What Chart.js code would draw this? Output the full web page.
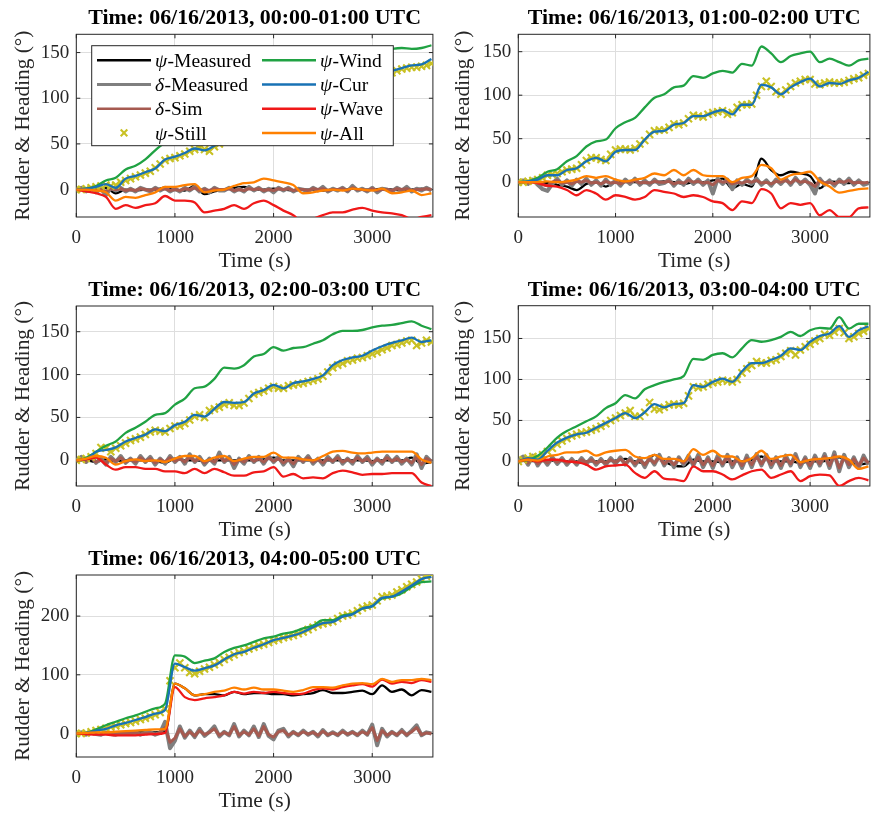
<!DOCTYPE html>
<html>
<head>
<meta charset="utf-8">
<script src="https://cdn.jsdelivr.net/npm/chart.js@4.4.1/dist/chart.umd.min.js"></script>
<style>
  html, body { margin: 0; padding: 0; background: #fff; }
  body { width: 877px; height: 818px; position: relative; overflow: hidden; }
  .panel { position: absolute; }
</style>
</head>
<body>
<div class="panel" id="box1"><canvas id="c1"></canvas></div>
<div class="panel" id="box2"><canvas id="c2"></canvas></div>
<div class="panel" id="box3"><canvas id="c3"></canvas></div>
<div class="panel" id="box4"><canvas id="c4"></canvas></div>
<div class="panel" id="box5"><canvas id="c5"></canvas></div>
<script>
// time grids (s)
const timeCoarse = [0, 100, 200, 300, 400, 500, 600, 700, 800, 900,
  1000, 1100, 1200, 1300, 1400, 1500, 1600, 1700, 1800, 1900,
  2000, 2100, 2200, 2300, 2400, 2500, 2600, 2700, 2800, 2900,
  3000, 3100, 3200, 3300, 3400, 3500, 3600];
const timeFine = [0, 50, 100, 150, 200, 250, 300, 350, 400, 450, 500, 550,
  600, 650, 700, 750, 800, 850, 900, 950, 1000, 1050, 1100, 1150,
  1200, 1250, 1300, 1350, 1400, 1450, 1500, 1550, 1600, 1650, 1700, 1750,
  1800, 1850, 1900, 1950, 2000, 2050, 2100, 2150, 2200, 2250, 2300, 2350,
  2400, 2450, 2500, 2550, 2600, 2650, 2700, 2750, 2800, 2850, 2900, 2950,
  3000, 3050, 3100, 3150, 3200, 3250, 3300, 3350, 3400, 3450, 3500, 3550,
  3600];

const titles = [
  'Time: 06/16/2013, 00:00-01:00 UTC',
  'Time: 06/16/2013, 01:00-02:00 UTC',
  'Time: 06/16/2013, 02:00-03:00 UTC',
  'Time: 06/16/2013, 03:00-04:00 UTC',
  'Time: 06/16/2013, 04:00-05:00 UTC'
];
const seriesNames = ['ψ-Measured', 'δ-Measured', 'δ-Sim', 'ψ-Still', 'ψ-Wind', 'ψ-Cur', 'ψ-Wave', 'ψ-All'];
const xTicks = [0, 1000, 2000, 3000];
const yTicks = [[0, 50, 100, 150], [0, 50, 100, 150], [0, 50, 100, 150], [0, 50, 100, 150], [0, 100, 200]];
const yRanges = [[-30, 170], [-40, 170], [-30, 180], [-30, 190], [-40, 270]];

// ---- 00:00-01:00 ----
const measured1 = [0, 0, 1, 2, -4, 0, -1, 0, 0, 2,
  0, -1, 4, -5, -2, 0, 2, 3, 0, 0,
  1, 0, -1, 0, 0, -1, 0, 0, 1, 0,
  0, 1, 0, -1, 0, 1, 0];
const rudderMeas1 = [0, 2, -2, 2, -3, 1, -6, 2, -1, 2, -2, 1,
  -2, 2, 0, -2, 2, -1, 2, -2, 1, -2, 2, -1,
  3, -2, 1, -3, 2, -1, -1, 2, -2, 1, -2, 3,
  -1, 2, -2, 1, -3, 2, -1, 2, -2, 1, 0, -2,
  2, -1, 3, -2, 1, -1, 2, -2, 4, -1, 1, -2,
  2, -3, 1, 0, -2, 2, -1, 3, -2, 1, -1, 2,
  -1];
const rudderSim1 = [0, 1, -1, 1, -2, 0, -2, 1, 0, 1, -1, 0,
  -1, 1, 0, -1, 1, 0, 1, -1, 0, -1, 1, 0,
  2, -1, 0, -1, 1, 0, 0, 1, -1, 0, -1, 1,
  0, 1, -1, 0, -1, 1, 0, 1, -1, 0, 0, -1,
  1, 0, 1, -1, 0, 0, 1, -1, 2, 0, 0, -1,
  1, -1, 0, 0, -1, 1, 0, 1, -1, 0, 0, 1,
  0];
const still1 = [0, 0, 1, 2, 3, 4, 5, 4, 5, 8, 10, 12,
  14, 16, 18, 20, 24, 28, 32, 34, 35, 37, 39, 42,
  44, 46, 44, 42, 47, 50, 53, 56, 59, 62, 65, 68,
  71, 74, 77, 80, 83, 86, 89, 92, 94, 96, 99, 101,
  103, 105, 107, 109, 111, 113, 114, 116, 117, 119, 120, 122,
  123, 125, 126, 126, 128, 130, 132, 133, 134, 134, 135, 136,
  138];
const wind1 = [0, 1, 4, 10, 13, 22, 26, 33, 43, 52,
  62, 70, 78, 85, 92, 98, 103, 108, 113, 118,
  122, 126, 130, 133, 137, 140, 142, 145, 147, 149,
  151, 152, 154, 155, 154, 155, 158];
const cur1 = [0, 1, 3, 6, 2, 12, 15, 19, 23, 33,
  36, 40, 45, 43, 48, 54, 60, 66, 72, 78,
  84, 90, 95, 100, 104, 108, 112, 115, 118, 121,
  124, 127, 130, 133, 136, 137, 143];
const wave1 = [0, -2, -4, -8, -21, -17, -20, -17, -15, -7,
  -12, -12, -14, -25, -23, -21, -17, -21, -15, -12,
  -17, -23, -28, -36, -32, -28, -25, -25, -22, -20,
  -23, -25, -26, -28, -32, -30, -28];
const all1 = [0, 0, -1, -3, -12, -8, -9, -6, -3, 3,
  3, 5, 6, -3, -1, 0, 4, 7, 8, 12,
  10, 8, 5, -4, -3, -1, 0, -1, 1, 0,
  -1, 1, -4, -3, -1, -6, -4];

// ---- 01:00-02:00 ----
const measured2 = [0, 0, 0, -1, -3, -5, -9, -2, 0, -5,
  0, 0, 0, -1, 0, 1, 0, -2, 0, 0,
  2, 4, -7, -2, -5, 27, 14, 8, 12, 10,
  7, -7, 1, 0, -1, 0, -2];
const rudderMeas2 = [0, 2, -2, 3, -3, -8, -10, -2, 4, -3, 2, -4,
  3, -2, 4, -3, 2, -4, 3, -3, 2, -4, 3, -2,
  4, -3, 2, -3, 3, -2, -1, 3, -4, 2, -3, 4,
  -2, 3, -3, 2, -13, 4, -2, 3, -8, 2, -3, 3,
  -2, 4, -3, 2, -4, 3, -2, 4, -3, 5, -2, 3,
  -3, -13, 4, -3, 2, -4, 3, -2, 4, -3, 2, -3,
  -1];
const rudderSim2 = [0, 1, -1, 1, -1, -3, -4, 0, 2, -1, 0, -2,
  1, 0, 2, -1, 0, -2, 1, -1, 0, -2, 1, 0,
  2, -1, 0, -1, 1, 0, 0, 1, -2, 0, -1, 2,
  0, 1, -1, 0, -3, 2, 0, 1, -2, 0, -1, 1,
  0, 2, -1, 0, -2, 1, 0, 2, -1, 3, 0, 1,
  -1, -5, 2, -1, 0, -2, 1, 0, 2, -1, 0, -1,
  0];
const still2 = [0, 0, 1, 2, 3, 5, 8, 9, 10, 12, 14, 15,
  16, 20, 25, 28, 28, 26, 25, 32, 37, 38, 38, 37,
  39, 44, 48, 55, 59, 60, 60, 63, 67, 66, 68, 73,
  77, 76, 75, 78, 80, 81, 82, 78, 80, 86, 89, 89,
  90, 100, 110, 116, 110, 104, 101, 106, 110, 114, 116, 118,
  118, 113, 112, 114, 115, 114, 114, 115, 117, 119, 120, 123,
  125];
const wind2 = [0, 1, 5, 12, 15, 24, 30, 41, 47, 49,
  62, 69, 74, 86, 97, 101, 109, 111, 122, 120,
  125, 128, 126, 136, 134, 156, 148, 138, 145, 148,
  150, 138, 142, 138, 134, 140, 142];
const cur2 = [0, 1, 3, 8, 8, 14, 16, 24, 28, 24,
  35, 37, 37, 49, 58, 59, 66, 68, 76, 76,
  80, 83, 78, 89, 89, 112, 109, 101, 109, 115,
  119, 110, 114, 113, 117, 120, 127];
const wave2 = [0, 0, -1, -4, -5, -9, -15, -9, -13, -20,
  -15, -17, -20, -17, -9, -11, -13, -17, -15, -17,
  -22, -24, -32, -22, -24, -8, -13, -30, -24, -26,
  -24, -38, -32, -40, -40, -30, -29];
const all2 = [0, 0, 0, 1, 0, 1, 3, 7, 5, 7,
  3, 1, 3, 5, 10, 8, 14, 8, 14, 8,
  7, 7, 0, 5, 7, 20, 16, 3, 8, 10,
  12, 1, -5, -12, -10, -8, -7];

// ---- 02:00-03:00 ----
const measured3 = [0, 0, -2, 1, -1, 0, 0, 0, -1, -3,
  2, 0, 0, -1, 0, 0, 0, 0, 0, 1,
  3, 0, 0, 0, 0, 0, 0, 0, 0, 0,
  -1, 0, 0, 0, 3, -4, -2];
const rudderMeas3 = [0, 4, -2, 5, -3, 2, -5, 4, -2, 5, -3, 2,
  -4, 5, -2, 4, -5, 2, -4, 5, -2, 4, -4, 7,
  -2, 4, -5, 2, -4, 9, -2, 4, -9, 2, -4, 5,
  -2, 4, -4, 5, -2, 4, -5, 2, -7, 4, -2, 5,
  -4, 2, -5, 4, -2, 5, -4, 2, -4, 5, -2, 4,
  -5, 2, -4, 5, -2, 4, -4, 2, -5, 7, -9, 4,
  -2];
const rudderSim3 = [0, 2, -1, 3, -2, 1, -3, 2, -1, 3, -2, 1,
  -2, 3, -1, 2, -3, 1, -2, 3, -1, 2, -2, 4,
  -1, 2, -3, 1, -2, 5, -1, 2, -5, 1, -2, 3,
  -1, 2, -2, 3, -1, 2, -3, 1, -4, 2, -1, 3,
  -2, 1, -3, 2, -1, 3, -2, 1, -2, 3, -1, 2,
  -3, 1, -2, 3, -1, 2, -2, 1, -3, 4, -5, 2,
  -1];
const still3 = [0, 1, 2, 4, 8, 15, 14, 10, 14, 17, 20, 23,
  25, 27, 30, 33, 35, 34, 33, 37, 40, 40, 43, 47,
  51, 53, 50, 58, 60, 62, 65, 67, 64, 64, 67, 72,
  77, 79, 81, 84, 86, 84, 84, 87, 88, 89, 90, 92,
  93, 95, 98, 103, 108, 111, 113, 116, 117, 119, 120, 122,
  124, 126, 129, 131, 134, 135, 137, 139, 140, 134, 137, 140,
  138];
const wind3 = [0, 3, 10, 17, 22, 32, 38, 45, 53, 55,
  65, 72, 84, 86, 95, 108, 107, 111, 121, 124,
  132, 128, 131, 132, 136, 140, 147, 151, 151, 152,
  155, 157, 158, 160, 162, 157, 153];
const cur3 = [0, 1, 10, 12, 15, 22, 26, 30, 36, 34,
  41, 45, 53, 51, 60, 68, 67, 68, 78, 82,
  88, 84, 90, 92, 95, 99, 111, 117, 120, 122,
  128, 133, 137, 140, 143, 138, 140];
const wave3 = [0, 1, 3, -5, -11, -8, -8, -10, -10, -13,
  -13, -15, -10, -15, -10, -14, -18, -18, -14, -13,
  -8, -19, -16, -21, -20, -21, -15, -12, -14, -17,
  -16, -16, -15, -15, -15, -26, -30];
const all3 = [0, 2, 5, 3, -5, -1, 1, -1, 0, -2,
  2, 5, 5, -1, 3, 5, -1, 2, 4, 4,
  9, 3, 3, 1, 0, 5, 10, 11, 9, 8,
  9, 10, 10, 10, 10, 1, -3];

// ---- 03:00-04:00 ----
const measured4 = [0, 1, 0, 1, 1, 0, 0, 0, 0, 0,
  1, 3, 0, -2, 8, 0, -5, -6, 2, 0,
  0, -1, 0, 0, 2, 6, 0, 0, 0, -2,
  0, 0, 2, 5, 0, -4, -2];
const rudderMeas4 = [0, 6, -4, 7, -5, 4, -4, 5, -3, 4, -4, 3,
  -4, 4, -3, 4, -4, 3, -4, 4, -3, 5, -4, 4,
  -5, 4, -7, 5, -4, 8, -5, 4, -7, 5, -4, 7,
  -5, 8, -7, 5, -8, 7, -5, 8, -7, 5, -8, 7,
  -7, 9, -5, 8, -7, 5, -8, 7, -5, 9, -7, 5,
  -8, 7, -5, 9, -8, 11, -12, 8, -7, 5, -8, 7,
  -4];
const rudderSim4 = [0, 3, -2, 4, -3, 2, -2, 3, -1, 2, -2, 1,
  -2, 2, -1, 2, -2, 1, -2, 2, -1, 3, -2, 2,
  -3, 2, -4, 3, -2, 5, -3, 2, -4, 3, -2, 4,
  -3, 5, -4, 3, -5, 4, -3, 5, -4, 3, -5, 4,
  -4, 6, -3, 5, -4, 3, -5, 4, -3, 6, -4, 3,
  -5, 4, -3, 6, -5, 7, -8, 5, -4, 3, -5, 4,
  -2];
const still4 = [0, 2, 4, 6, 5, 8, 12, 16, 21, 25, 28, 31,
  33, 35, 36, 38, 40, 43, 46, 50, 53, 56, 59, 62,
  55, 55, 60, 72, 64, 63, 66, 69, 70, 69, 71, 80,
  91, 90, 91, 94, 96, 97, 99, 98, 97, 100, 108, 113,
  117, 122, 120, 120, 123, 124, 128, 132, 135, 130, 136, 140,
  143, 147, 150, 155, 154, 158, 162, 157, 150, 152, 156, 159,
  162];
const wind4 = [0, 2, 7, 17, 29, 37, 43, 49, 55, 65,
  71, 81, 77, 88, 93, 97, 100, 104, 125, 124,
  130, 132, 127, 138, 148, 146, 148, 152, 158, 153,
  160, 163, 162, 176, 162, 168, 168];
const cur4 = [0, 4, 2, 13, 23, 29, 33, 35, 41, 47,
  53, 59, 53, 60, 70, 66, 70, 71, 93, 91,
  97, 101, 97, 110, 120, 120, 124, 129, 138, 136,
  146, 153, 156, 165, 152, 160, 165];
const wave4 = [0, 2, 0, 2, 2, 0, -1, -4, -10, -6,
  -5, -4, -14, -20, -12, -21, -22, -24, -6, -12,
  -12, -16, -22, -17, -12, -10, -20, -16, -12, -24,
  -18, -16, -17, -30, -24, -20, -23];
const all4 = [0, 2, 1, 6, 8, 11, 11, 13, 7, 11,
  13, 14, 6, 4, 8, 3, 3, 0, 15, 8,
  13, 6, 6, 0, 4, 13, 3, 6, 8, -1,
  2, 3, 4, 6, 2, -9, -6];

// ---- 04:00-05:00 ----
const measured5 = [0, 0, 0, 1, 1, 1, 2, 2, 2, 3,
  85, 77, 65, 67, 67, 65, 71, 67, 69, 69,
  67, 67, 65, 67, 69, 74, 69, 69, 71, 73,
  67, 82, 71, 75, 65, 74, 71];
const rudderMeas5 = [0, 2, -2, 1, -1, -2, 2, -1, -2, 1, -1, 0,
  2, -2, 1, 2, -2, 1, 20, -25, -12, 12, -7, 5,
  -6, 8, -4, 3, 12, -5, 3, -3, 16, -5, 5, -3,
  12, -6, 16, -4, -10, 5, 8, -5, 3, -3, 5, -2,
  3, -5, 6, -3, 2, -3, 5, -2, 3, -3, 5, -2,
  15, -20, 8, -5, 3, -3, 6, -3, 5, 14, -3, 2,
  0];
const rudderSim5 = [0, 1, -1, 1, 0, -1, 1, 0, -1, 1, 0, 0,
  1, -1, 0, 1, -1, 1, 10, -15, -8, 8, -5, 3,
  -4, 5, -2, 2, 8, -3, 2, -2, 12, -3, 3, -2,
  8, -4, 12, -2, -6, 3, 5, -3, 2, -2, 3, -1,
  2, -3, 4, -2, 1, -2, 3, -1, 2, -2, 3, -1,
  10, -12, 5, -3, 2, -2, 4, -2, 3, 10, -2, 1,
  0];
const still5 = [0, 0, 1, 3, 5, 7, 9, 11, 13, 15, 17, 19,
  21, 24, 26, 29, 32, 36, 42, 90, 112, 120, 112, 104,
  102, 106, 110, 113, 117, 121, 126, 130, 134, 138, 140, 144,
  147, 150, 152, 155, 158, 160, 163, 165, 167, 170, 173, 177,
  181, 185, 187, 189, 191, 196, 200, 202, 205, 209, 214, 217,
  219, 226, 233, 234, 236, 241, 245, 250, 254, 258, 263, 268,
  272];
const wind5 = [0, 1, 7, 14, 20, 26, 31, 37, 43, 51,
  133, 131, 120, 124, 128, 139, 146, 150, 156, 162,
  165, 170, 173, 179, 184, 193, 193, 201, 204, 213,
  217, 230, 233, 239, 250, 258, 259];
const cur5 = [0, 1, 5, 8, 14, 18, 23, 28, 34, 40,
  119, 113, 107, 111, 116, 126, 135, 139, 146, 152,
  159, 163, 167, 173, 181, 188, 190, 199, 203, 213,
  217, 231, 233, 242, 252, 263, 267];
const wave5 = [0, -1, -2, -2, -3, -3, -3, -2, -1, 1,
  79, 62, 57, 60, 62, 65, 71, 68, 71, 69,
  71, 69, 67, 68, 74, 77, 75, 79, 82, 84,
  80, 92, 85, 88, 86, 91, 88];
const all5 = [0, 1, 2, 2, 3, 4, 5, 6, 7, 8,
  85, 77, 65, 67, 71, 73, 78, 75, 78, 75,
  75, 73, 71, 74, 79, 79, 78, 82, 85, 86,
  84, 93, 88, 91, 91, 93, 91];

const seriesColors = ['#000000', '#7f7f7f', '#a65a50', '#c9c124', '#20a243', '#1872b5', '#f01818', '#ff8000'];
const lineWidths = [2.3, 4, 3, 2.1, 2.3, 2.3, 2.3, 2.3];

const panelData = [
  [measured1, rudderMeas1, rudderSim1, still1, wind1, cur1, wave1, all1],
  [measured2, rudderMeas2, rudderSim2, still2, wind2, cur2, wave2, all2],
  [measured3, rudderMeas3, rudderSim3, still3, wind3, cur3, wave3, all3],
  [measured4, rudderMeas4, rudderSim4, still4, wind4, cur4, wave4, all4],
  [measured5, rudderMeas5, rudderSim5, still5, wind5, cur5, wave5, all5]
];

const panelBoxes = [
  { left: 0,   width: 440, plotLeft: 76.3,  plotRight: 436.7, plotTop: 34.3,  plotBottom: 217 },
  { left: 440, width: 437, plotLeft: 518.3, plotRight: 876.7, plotTop: 34.3,  plotBottom: 217 },
  { left: 0,   width: 440, plotLeft: 76.3,  plotRight: 436.7, plotTop: 306,   plotBottom: 486 },
  { left: 440, width: 437, plotLeft: 518.3, plotRight: 876.7, plotTop: 305.7, plotBottom: 486 },
  { left: 0,   width: 440, plotLeft: 76.3,  plotRight: 436.7, plotTop: 575,   plotBottom: 757 }
];
const X_AXIS_H = 55;
const SERIF = '"Liberation Serif", "Times New Roman", serif';
const AXIS_INK = '#262626';

const axesFrame = {
  id: 'axesFrame',
  beforeDatasetsDraw(chart) {
    const { ctx, chartArea: a, scales } = chart;
    ctx.save();
    ctx.strokeStyle = AXIS_INK;
    ctx.lineWidth = 1;
    ctx.beginPath();
    xTicks.forEach(v => {
      const px = scales.x.getPixelForValue(v);
      ctx.moveTo(px, a.bottom); ctx.lineTo(px, a.bottom - 4);
      ctx.moveTo(px, a.top); ctx.lineTo(px, a.top + 4);
    });
    scales.y.ticks.forEach(t => {
      const py = scales.y.getPixelForValue(t.value);
      ctx.moveTo(a.left, py); ctx.lineTo(a.left + 4, py);
      ctx.moveTo(a.right, py); ctx.lineTo(a.right - 4, py);
    });
    ctx.stroke();
    ctx.strokeRect(a.left, a.top, a.right - a.left, a.bottom - a.top);
    ctx.restore();
  }
};

const panelTitle = {
  id: 'panelTitle',
  afterDraw(chart, args, opts) {
    const { ctx, chartArea: a } = chart;
    ctx.save();
    ctx.font = 'bold 21.9px ' + SERIF;
    ctx.fillStyle = '#000';
    ctx.textAlign = 'center';
    ctx.textBaseline = 'middle';
    ctx.fillText(opts.text, (a.left + a.right) / 2, a.top - 15.5);
    ctx.restore();
  }
};

function drawLabel(ctx, label, x, y) {
  const sym = label.charAt(0);
  const rest = label.slice(1);
  ctx.font = 'italic 19.5px ' + SERIF;
  ctx.fillText(sym, x, y);
  const w = ctx.measureText(sym).width;
  ctx.font = '19.5px ' + SERIF;
  ctx.fillText(rest, x + w + 0.5, y);
}

const boxLegend = {
  id: 'boxLegend',
  afterDatasetsDraw(chart) {
    const { ctx, chartArea: a } = chart;
    const left = a.left + 15.4, top = a.top + 11.4, w = 301.6, h = 100;
    ctx.save();
    ctx.fillStyle = '#fff';
    ctx.fillRect(left, top, w, h);
    ctx.strokeStyle = AXIS_INK;
    ctx.lineWidth = 1;
    ctx.strokeRect(left, top, w, h);
    ctx.textAlign = 'left';
    ctx.textBaseline = 'middle';
    seriesNames.forEach((name, i) => {
      const col = Math.floor(i / 4), row = i % 4;
      const y = top + 14.6 + row * 24.2;
      const x0 = left + (col === 0 ? 5.3 : 170.3);
      const x1 = x0 + 54;
      ctx.strokeStyle = seriesColors[i];
      if (i === 3) {
        const cx = (x0 + x1) / 2, r = 3.3;
        ctx.lineWidth = 2.1;
        ctx.beginPath();
        ctx.moveTo(cx - r, y - r); ctx.lineTo(cx + r, y + r);
        ctx.moveTo(cx - r, y + r); ctx.lineTo(cx + r, y - r);
        ctx.stroke();
      } else {
        ctx.lineWidth = i === 1 ? 3 : 2.5;
        ctx.beginPath();
        ctx.moveTo(x0, y); ctx.lineTo(x1, y);
        ctx.stroke();
      }
      ctx.fillStyle = '#000';
      drawLabel(ctx, name, x1 + 4, y + 1.5);
    });
    ctx.restore();
  }
};

function makeDatasets(series) {
  return series.map((vals, i) => {
    const fine = i === 1 || i === 2 || i === 3;
    const times = fine ? timeFine : timeCoarse;
    const ds = {
      label: seriesNames[i],
      data: vals.map((v, k) => ({ x: times[k], y: v })),
      borderColor: seriesColors[i],
      backgroundColor: seriesColors[i],
      borderWidth: lineWidths[i],
      order: 7 - i,
      fill: false
    };
    if (i === 3) {
      ds.showLine = false;
      ds.pointStyle = 'crossRot';
      ds.pointRadius = 5;
      ds.pointBorderWidth = 2.1;
      ds.pointBorderColor = seriesColors[i];
    } else {
      ds.pointRadius = 0;
      if (fine) {
        ds.tension = 0;
        ds.borderJoinStyle = 'round';
      } else {
        ds.cubicInterpolationMode = 'monotone';
      }
    }
    return ds;
  });
}

panelBoxes.forEach((b, p) => {
  const top = Math.floor(b.plotTop - 34);
  const height = Math.ceil(b.plotBottom + X_AXIS_H - top);
  const holder = document.getElementById('box' + (p + 1));
  holder.style.left = b.left + 'px';
  holder.style.top = top + 'px';
  holder.style.width = b.width + 'px';
  holder.style.height = height + 'px';

  const yW = b.plotLeft - b.left;
  const padRight = b.left + b.width - b.plotRight;
  const padTop = b.plotTop - top;
  const padBottom = height - (b.plotBottom + X_AXIS_H - top);
  const plugins = [axesFrame, panelTitle];
  if (p === 0) plugins.push(boxLegend);

  new Chart(document.getElementById('c' + (p + 1)), {
    type: 'line',
    data: { datasets: makeDatasets(panelData[p]) },
    plugins,
    options: {
      responsive: true,
      maintainAspectRatio: false,
      animation: false,
      devicePixelRatio: 1,
      events: [],
      layout: { padding: { left: 0, top: padTop, right: padRight, bottom: padBottom } },
      plugins: {
        legend: { display: false },
        tooltip: { enabled: false },
        title: { display: false },
        panelTitle: { text: titles[p] }
      },
      scales: {
        x: {
          type: 'linear',
          min: 0,
          max: 3615,
          afterBuildTicks: s => { s.ticks = xTicks.map(v => ({ value: v })); },
          afterFit: s => { s.height = X_AXIS_H; },
          grid: { color: '#dedede', lineWidth: 1, drawTicks: false },
          border: { display: false },
          ticks: {
            font: { family: SERIF, size: 19, lineHeight: 1 },
            color: AXIS_INK,
            padding: 11.5,
            maxRotation: 0,
            autoSkip: false,
            callback: v => String(v)
          },
          title: {
            display: true,
            text: 'Time (s)',
            font: { family: SERIF, size: 21.4, lineHeight: 1 },
            color: AXIS_INK,
            padding: 0
          }
        },
        y: {
          type: 'linear',
          min: yRanges[p][0],
          max: yRanges[p][1],
          afterBuildTicks: s => { s.ticks = yTicks[p].map(v => ({ value: v })); },
          afterFit: s => { s.width = yW; },
          grid: { color: '#dedede', lineWidth: 1, drawTicks: false },
          border: { display: false },
          ticks: {
            font: { family: SERIF, size: 19, lineHeight: 1 },
            color: AXIS_INK,
            padding: 7,
            autoSkip: false,
            callback: v => String(v)
          },
          title: {
            display: true,
            text: 'Rudder & Heading (°)',
            font: { family: SERIF, size: 21.3, lineHeight: 1 },
            color: AXIS_INK,
            padding: { top: 12.7, bottom: 0 }
          }
        }
      }
    }
  });
});
</script>
</body>
</html>
